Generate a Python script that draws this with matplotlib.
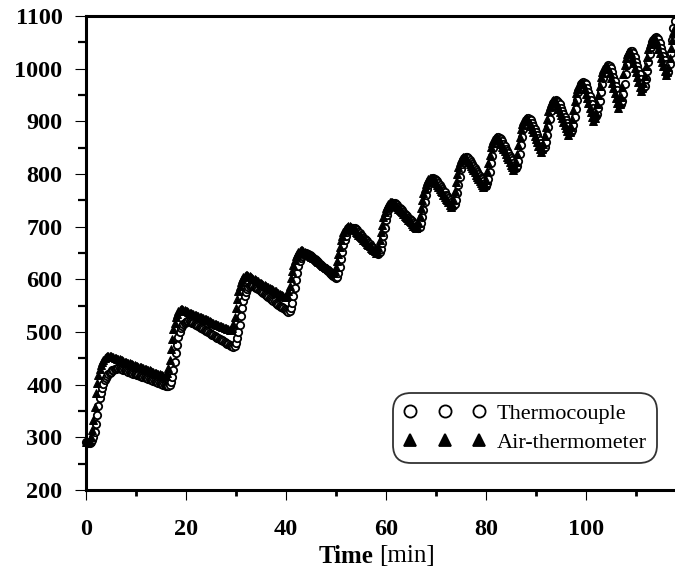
import numpy as np
import matplotlib
matplotlib.use("Agg")
import matplotlib.pyplot as plt
from matplotlib.ticker import MultipleLocator

plt.rcParams['font.family'] = ['Liberation Serif', 'DejaVu Serif']

air = [
    292, 292, 292, 294, 300, 314, 333, 358, 385, 404, 418, 429, 437, 443, 447, 450, 452, 454, 455, 455,
    454, 453, 452, 451, 450, 449, 448, 448, 447, 446, 445, 444, 443, 442, 441, 441, 440, 439, 438, 437,
    436, 435, 434, 434, 433, 432, 431, 430, 429, 428, 427, 427, 426, 425, 424, 423, 422, 421, 420, 420,
    419, 418, 417, 417, 416, 422, 431, 447, 467, 487, 505, 518, 528, 534, 539, 541, 543, 543, 542, 541,
    540, 539, 538, 537, 536, 535, 534, 533, 532, 531, 530, 529, 528, 527, 526, 525, 524, 523, 522, 520,
    519, 518, 517, 516, 515, 514, 513, 512, 511, 510, 509, 508, 507, 506, 505, 504, 503, 507, 516, 529,
    545, 562, 577, 587, 595, 601, 605, 607, 608, 608, 607, 606, 604, 603, 601, 600, 599, 597, 596, 594,
    593, 592, 590, 589, 588, 586, 585, 584, 582, 581, 579, 578, 577, 575, 574, 573, 571, 570, 569, 567,
    566, 569, 577, 588, 602, 615, 628, 637, 644, 649, 652, 654, 655, 655, 654, 652, 650, 649, 647, 645,
    643, 642, 640, 638, 636, 635, 633, 631, 629, 628, 626, 624, 622, 621, 619, 617, 615, 614, 612, 615,
    623, 634, 648, 661, 674, 683, 690, 695, 698, 700, 701, 701, 700, 698, 695, 693, 690, 688, 685, 683,
    680, 678, 675, 673, 670, 668, 665, 663, 660, 658, 655, 653, 650, 654, 662, 674, 689, 704, 718, 728,
    735, 740, 744, 746, 747, 747, 745, 743, 740, 737, 734, 732, 729, 727, 724, 721, 718, 716, 713, 711,
    708, 705, 702, 700, 697, 701, 709, 720, 735, 750, 764, 774, 781, 786, 790, 792, 793, 793, 791, 787,
    783, 780, 776, 772, 768, 765, 761, 757, 753, 750, 746, 742, 738, 743, 752, 767, 784, 800, 814, 822,
    828, 831, 833, 833, 831, 827, 823, 819, 815, 811, 807, 803, 799, 795, 791, 787, 783, 779, 775, 780,
    789, 805, 821, 837, 851, 859, 865, 868, 870, 869, 867, 862, 857, 852, 847, 843, 838, 833, 828, 823,
    818, 813, 808, 814, 823, 838, 855, 871, 886, 895, 901, 904, 906, 905, 903, 897, 891, 885, 879, 873,
    867, 861, 854, 848, 842, 848, 857, 872, 889, 905, 920, 929, 935, 938, 940, 939, 937, 931, 924, 918,
    912, 906, 899, 893, 887, 881, 874, 880, 889, 905, 922, 938, 953, 962, 968, 971, 973, 972, 970, 961,
    952, 944, 935, 926, 917, 909, 900, 906, 916, 932, 950, 968, 984, 993, 1000, 1003, 1005, 1004, 1001, 992,
    982, 973, 963, 954, 944, 935, 925, 933, 946, 966, 989, 1007, 1021, 1028, 1032, 1031, 1029, 1020, 1011, 1002,
    993, 984, 975, 966, 957, 963, 972, 987, 1005, 1022, 1038, 1047, 1053, 1056, 1058, 1057, 1055, 1047, 1038, 1030,
    1021, 1013, 1005, 996, 988, 994, 1004, 1020, 1040, 1055, 1070, 1080,
]

thermo = [
    291, 291, 290, 290, 292, 295, 300, 310, 325, 342, 360, 374, 385, 394, 402, 408, 413, 417, 420, 423,
    425, 427, 428, 429, 430, 431, 431, 431, 430, 429, 428, 428, 427, 426, 425, 424, 423, 422, 421, 421,
    420, 419, 418, 417, 416, 415, 414, 414, 413, 412, 411, 410, 409, 408, 407, 407, 406, 405, 404, 403,
    402, 401, 400, 399, 398, 398, 397, 399, 405, 414, 428, 443, 460, 476, 490, 500, 507, 512, 515, 517,
    519, 520, 520, 520, 519, 518, 517, 516, 514, 513, 511, 510, 508, 507, 505, 504, 502, 501, 500, 498,
    497, 495, 494, 492, 491, 489, 488, 486, 485, 484, 483, 481, 480, 478, 477, 475, 474, 473, 472, 474,
    480, 488, 500, 514, 530, 545, 558, 568, 576, 581, 585, 588, 589, 589, 588, 586, 584, 583, 581, 579,
    577, 576, 574, 572, 570, 568, 566, 565, 563, 561, 559, 558, 556, 554, 552, 550, 548, 547, 545, 543,
    541, 539, 538, 540, 546, 555, 568, 583, 598, 612, 625, 634, 641, 645, 648, 649, 650, 649, 648, 646,
    644, 642, 640, 638, 636, 634, 632, 630, 628, 626, 623, 621, 619, 617, 615, 613, 611, 609, 607, 605,
    603, 605, 612, 624, 638, 652, 665, 675, 683, 689, 693, 695, 697, 698, 698, 697, 695, 693, 690, 688,
    685, 682, 679, 677, 674, 672, 669, 667, 664, 662, 659, 656, 653, 651, 648, 651, 658, 669, 683, 698,
    712, 722, 731, 737, 741, 744, 745, 745, 743, 741, 738, 736, 733, 731, 728, 725, 722, 720, 717, 715,
    712, 710, 707, 705, 702, 700, 697, 700, 707, 718, 732, 747, 761, 771, 779, 784, 788, 791, 792, 791,
    789, 786, 782, 779, 775, 772, 768, 765, 761, 758, 754, 751, 747, 744, 740, 743, 750, 764, 780, 795,
    810, 819, 826, 830, 833, 832, 830, 827, 823, 819, 815, 812, 808, 804, 800, 797, 793, 790, 786, 782,
    778, 782, 790, 804, 820, 835, 850, 858, 865, 868, 870, 868, 866, 862, 857, 853, 848, 844, 839, 835,
    830, 826, 821, 817, 812, 816, 824, 838, 855, 870, 885, 893, 900, 904, 906, 904, 902, 897, 891, 886,
    880, 875, 869, 864, 858, 853, 847, 851, 860, 874, 890, 905, 920, 928, 935, 938, 941, 939, 937, 932,
    926, 920, 914, 909, 903, 897, 891, 886, 880, 884, 893, 908, 924, 940, 955, 963, 970, 973, 975, 973,
    970, 963, 955, 948, 940, 933, 925, 918, 910, 914, 925, 939, 955, 970, 983, 992, 1000, 1004, 1007, 1005,
    1002, 994, 985, 976, 967, 959, 950, 941, 932, 939, 952, 970, 990, 1007, 1022, 1029, 1034, 1033, 1030, 1022,
    1013, 1005, 997, 989, 980, 972, 963, 968, 980, 995, 1012, 1028, 1042, 1050, 1055, 1058, 1060, 1059, 1056, 1048,
    1040, 1032, 1024, 1017, 1009, 1001, 993, 1008, 1030, 1055, 1078, 1090,
]

t_air = np.arange(len(air)) * 0.25
t_thermo = np.arange(len(thermo)) * 0.25

fig = plt.figure(figsize=(6.75, 5.74), dpi=100)
ax = fig.add_axes([0.1274, 0.1463, 0.8726, 0.8258])

ax.plot(t_thermo, thermo, 'o', ms=5.3, mfc='white', mec='black', mew=1.3,
        label='Thermocouple', clip_on=False)
ax.plot(t_air, air, '^', ms=5.3, mfc='black', mec='black', mew=0.7,
        label='Air-thermometer', clip_on=False)

ax.set_xlim(0, 117.8)
ax.set_ylim(200, 1100)
ax.xaxis.set_major_locator(MultipleLocator(20))
ax.xaxis.set_minor_locator(MultipleLocator(10))
ax.yaxis.set_major_locator(MultipleLocator(100))
ax.yaxis.set_minor_locator(MultipleLocator(50))

for s in ['left', 'bottom', 'top']:
    ax.spines[s].set_linewidth(2.2)
ax.spines['right'].set_visible(False)

ax.tick_params(axis='x', which='major', direction='out', length=7, width=0.8, pad=14)
ax.tick_params(axis='x', which='minor', direction='out', length=4.3, width=2)
ax.tick_params(axis='y', which='major', direction='out', length=8, width=0.8, pad=9)
ax.tick_params(axis='y', which='minor', direction='out', length=5.5, width=1.6)
for lab in ax.get_xticklabels() + ax.get_yticklabels():
    lab.set_fontsize(17.5)
    lab.set_fontweight('bold')

fig.text(0.553, 0.031, 'Time', fontsize=18, fontweight='bold', ha='right', va='center')
fig.text(0.561, 0.031, '[min]', fontsize=18, ha='left', va='center')

leg = ax.legend(loc='lower right', bbox_to_anchor=(0.969, 0.057), numpoints=3,
                markerscale=1.65, fontsize=16, handlelength=3.7, handletextpad=0.5,
                borderpad=0.45, labelspacing=0.4, frameon=True, fancybox=True,
                borderaxespad=0)
leg.get_frame().set_edgecolor('black')
leg.get_frame().set_linewidth(1.3)
leg.get_frame().set_boxstyle('round', pad=0, rounding_size=0.8)
for h in leg.legend_handles:
    h.set_markeredgewidth(1.3)

fig.savefig('out.png', dpi=100)
